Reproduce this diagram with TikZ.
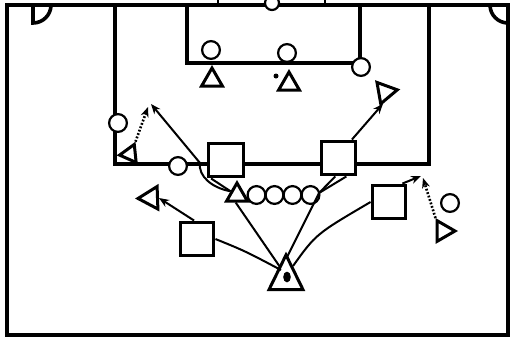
\documentclass[tikz,border=0pt]{standalone}
\usetikzlibrary{shapes.geometric,arrows.meta,calc}
\begin{document}
\begin{tikzpicture}[x=1pt,y=-1pt,
  fieldline/.style={line width=3.6pt},
  boxline/.style={line width=3.2pt},
  plr/.style={circle,draw,fill=white,line width=2.2pt,minimum size=17.8pt,inner sep=0pt},
  opp/.style={rectangle,draw,fill=white,line width=3.4pt,minimum size=33.5pt,inner sep=0pt},
  att/.style={regular polygon,regular polygon sides=3,draw,fill=white,line width=3pt,minimum size=24pt,inner sep=0pt},
  pass/.style={line width=2pt},
  arr/.style={line width=2pt,-{Stealth[length=10pt,width=8pt]}},
  runarr/.style={line width=2.6pt,dash pattern=on 1.8pt off 1.8pt,-{Stealth[length=10pt,width=8pt]}},
]
\useasboundingbox (0,0) rectangle (510,338);
\clip (0,0) rectangle (510,338);
% field
\draw[fieldline] (7,5) rectangle (508,335);
\draw[fieldline] (33,5) -- (33,23) arc[start angle=90,end angle=0,radius=18];
\draw[fieldline] (490,5) arc[start angle=180,end angle=90,radius=18];
\draw[line width=2.4pt] (218,0) -- (218,5) (325,0) -- (325,5);
% penalty box
\draw[fieldline] (115,5) -- (115,164) -- (429,164) -- (429,5);
\draw[line width=4.4pt] (226,164) -- (339,164);
% goal area
\draw[boxline] (187,5) -- (187,63) -- (360,63) (360,5) -- (360,63);
% players (circles)
\node[plr,minimum size=14pt] (gk) at (272,3) {};
\node[plr] (c1) at (211,50) {};
\node[plr] (c2) at (287,53) {};
\node[plr] (c3) at (361,67) {};
\node[plr] (c4) at (118,123) {};
\node[plr] (c5) at (178,166) {};
\node[plr] (w1) at (256.5,195) {};
\node[plr] (w2) at (274.5,195) {};
\node[plr] (w3) at (292.5,195) {};
\node[plr] (w4) at (310.5,195) {};
\node[plr] (c6) at (450,203) {};
% opponents (squares)
\node[opp,minimum width=35pt] (S1) at (226,160) {};
\node[opp] (S2) at (338.5,158) {};
\node[opp] (S3) at (197,239) {};
\node[opp] (S4) at (389,202) {};
% triangles
\node[att] (T1) at (212,80) {};
\node[att] (T2) at (289,84) {};
\fill (276,76) circle[radius=2.5];
\node[att] (T3) at (237,195) {};
\node[att,minimum size=46pt,xscale=0.85,transform shape] (T4) at (286,278) {};
\fill (287,277) ellipse[x radius=3.8,y radius=5.4];
\node[att,minimum size=21pt,shape border rotate=96] (T5) at (130,154) {};
\node[att,minimum size=26pt,shape border rotate=92] (T6) at (151,198) {};
\node[att,minimum size=25pt,shape border rotate=-80] (T7) at (385,92) {};
\node[att,minimum size=24pt,shape border rotate=-90] (T8) at (443,231) {};
% free ends
\coordinate (e1) at (151,104);
\coordinate (e2) at (148,107);
\coordinate (e4) at (421,176);
\coordinate (e5) at (423,178);
\coordinate (j) at (319,193);
% connectors
\draw[arr] (T3.150) .. controls (212,188) and (198,176) .. (200,163) -- (e1);
\draw[pass] (S1.-129) -- (T3.150);
\draw[runarr] (T5.corner 3) -- (e2);
\draw[arr] (S2.54) -- (T7.-100);
\draw[arr] (S3.99) -- (T6.east);
\draw[pass] (S3.east) .. controls (245,251) .. ($(T4)+(-5,-8)$);
\draw[pass] (T3.-100) -- ($(T4)+(-6,-11)$);
\draw[pass] ($(T4)+(1,-21)$) -- (j);
\draw[pass] (j) -- (S2.-67);
\draw[pass] (j) -- (S2.-100);
\draw[pass] (S4.west) .. controls (316,234) .. ($(T4)+(7,-12)$);
\draw[arr] (S4.54) -- (e4);
\draw[runarr] (T8.corner 2) -- (e5);
\end{tikzpicture}
\end{document}
